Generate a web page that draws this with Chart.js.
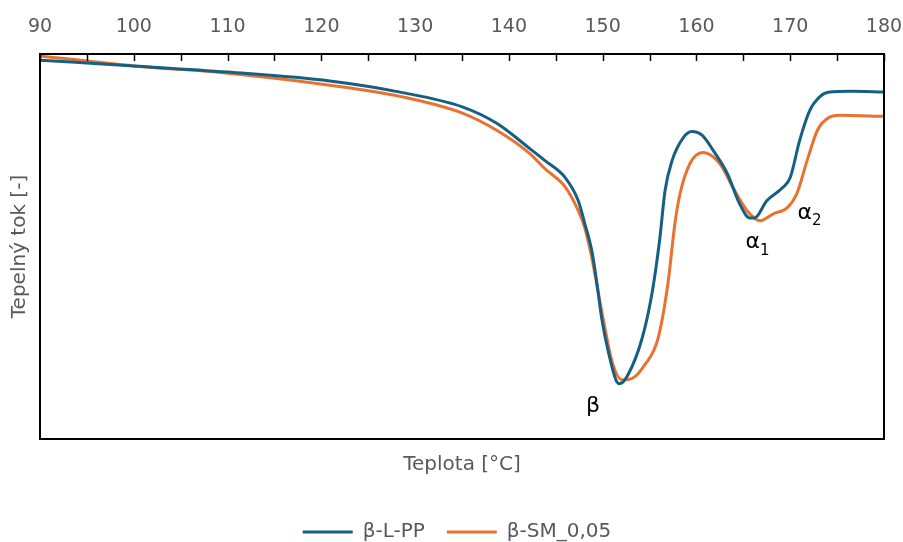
<!DOCTYPE html>
<html>
<head>
<meta charset="utf-8">
<script src="https://cdn.jsdelivr.net/npm/chart.js@4/dist/chart.umd.min.js"></script>
<style>
  html, body { margin: 0; padding: 0; background: #fff; }
  #wrap { width: 903px; height: 542px; }
</style>
</head>
<body>
<div id="wrap"><canvas id="graf"></canvas></div>
<script>
// hodnoty (tepelný tok v libovolných jednotkách)
const teplotaLPP = [90, 100, 110, 120.9, 128.4, 135.1, 138.7, 142.2, 143.85, 146.0, 147.4, 148.1, 148.85, 149.4, 149.9, 150.6,
  151.5, 151.85, 152.7, 154.2, 155.3, 156.1, 156.65, 157.4, 158.6, 159.5, 160.6, 161.8, 163.3, 164.6, 165.7, 166.2,
  167.5, 169.2, 170.0, 171.0, 172.1, 173.2, 174.2, 176.4, 180];
const tokLPP = [98.4, 96.9, 95.3, 93.0, 90.1, 86.2, 82.0, 75.5, 72.3, 67.9, 61.9, 55.9, 48.8, 40.2, 31.3, 22.7,
  14.9, 14.4, 16.7, 26.1, 38.4, 52.2, 64.5, 72.3, 78.3, 79.9, 78.9, 74.9, 68.9, 61.1, 57.4, 57.4,
  61.9, 65.3, 67.9, 77.5, 85.4, 89.0, 90.1, 90.3, 90.1];

const teplotaSM = [90, 100, 110, 120.9, 128.4, 135.1, 138.7, 142.2, 143.85, 146.0, 147.4, 148.1, 148.85, 149.5, 150.25, 151.0,
  152.05, 153.1, 154.5, 155.9, 156.95, 157.7, 158.25, 159.3, 160.7, 162.5, 163.9, 165.4, 166.8, 168.2, 169.7, 170.7,
  171.8, 172.9, 174.2, 175.3, 180];
const tokSM = [99.5, 96.9, 95.0, 91.9, 89.0, 84.6, 80.2, 74.2, 70.2, 65.5, 59.3, 54.8, 47.0, 38.4, 28.7, 20.1,
  15.4, 15.7, 19.3, 26.1, 40.2, 55.9, 63.7, 71.5, 74.4, 71.5, 65.3, 59.3, 56.7, 58.5, 60.1, 63.7,
  72.3, 80.2, 83.6, 84.1, 83.8];

const nazvySerii = ['β-L-PP', 'β-SM_0,05'];
const xTicks = [90, 100, 110, 120, 130, 140, 150, 160, 170, 180];
const xMinorTicks = [90, 95, 100, 105, 110, 115, 120, 125, 130, 135, 140, 145, 150, 155, 160, 165, 170, 175, 180];

const modra = '#156082';
const oranzova = '#E97132';
const seda = '#595959';
const pismo = "'DejaVu Sans', sans-serif";

function body(xs, ys) {
  return xs.map((x, i) => ({ x: x, y: ys[i] }));
}

// popisky píků (β, α1, α2) v souřadnicích dat
const popisky = [
  { text: 'β', sub: '', x: 148.97, y: 8.6 },
  { text: 'α', sub: '1', x: 166.0, y: 51.0 },
  { text: 'α', sub: '2', x: 171.55, y: 58.6 }
];

const ramecek = {
  id: 'ramecek',
  afterLayout(chart) {
    // legenda je v originále vycentrovaná na celou šířku obrázku
    chart.legend.left += 15;
    chart.legend.right += 15;
  },
  afterDraw(chart) {
    const ctx = chart.ctx;
    const a = chart.chartArea;
    const sx = chart.scales.x;
    ctx.save();
    ctx.strokeStyle = '#000';
    ctx.lineWidth = 2;
    ctx.strokeRect(a.left, a.top, a.right - a.left, a.bottom - a.top);
    // ticky směřují dovnitř grafu
    ctx.lineWidth = 1.5;
    xMinorTicks.forEach(t => {
      const px = Math.round(sx.getPixelForValue(t)) + 0.5;
      ctx.beginPath();
      ctx.moveTo(px, a.top);
      ctx.lineTo(px, a.top + 7);
      ctx.stroke();
    });
    // popisky
    const sy = chart.scales.y;
    ctx.fillStyle = '#000';
    ctx.textBaseline = 'middle';
    popisky.forEach(p => {
      const px = sx.getPixelForValue(p.x);
      const py = sy.getPixelForValue(p.y);
      ctx.font = '22px ' + pismo;
      ctx.textAlign = 'center';
      ctx.fillText(p.text, px, py);
      if (p.sub) {
        const w = ctx.measureText(p.text).width;
        ctx.font = '15px ' + pismo;
        ctx.textAlign = 'left';
        ctx.fillText(p.sub, px + w / 2, py + 8);
      }
    });
    ctx.restore();
  }
};

new Chart(document.getElementById('graf'), {
  type: 'line',
  data: {
    datasets: [
      {
        label: nazvySerii[0],
        data: body(teplotaLPP, tokLPP),
        borderColor: modra,
        backgroundColor: modra,
        borderWidth: 3,
        pointRadius: 0,
        cubicInterpolationMode: 'monotone'
      },
      {
        label: nazvySerii[1],
        data: body(teplotaSM, tokSM),
        borderColor: oranzova,
        backgroundColor: oranzova,
        borderWidth: 3,
        pointRadius: 0,
        cubicInterpolationMode: 'monotone'
      }
    ]
  },
  options: {
    responsive: true,
    maintainAspectRatio: false,
    animation: false,
    layout: { padding: { top: 0, right: 19, left: 0, bottom: -10 } },
    plugins: {
      tooltip: { enabled: false },
      legend: {
        position: 'bottom',
        labels: {
          color: seda,
          font: { family: pismo, size: 20 },
          boxWidth: 50,
          boxHeight: 3,
          padding: 22,
          generateLabels(chart) {
            return Chart.defaults.plugins.legend.labels.generateLabels(chart)
              .map(l => Object.assign(l, { lineWidth: 0 }));
          }
        }
      }
    },
    scales: {
      x: {
        type: 'linear',
        position: 'top',
        min: 90,
        max: 180,
        afterBuildTicks(scale) {
          scale.ticks = xTicks.map(v => ({ value: v }));
        },
        afterFit(scale) {
          scale.height = 54;
          scale.paddingLeft = 0;
          scale.paddingRight = 0;
        },
        ticks: { color: seda, font: { family: pismo, size: 19 }, padding: 16, maxRotation: 0 },
        grid: { display: false, drawTicks: false },
        border: { display: false }
      },
      xb: {
        type: 'linear',
        position: 'bottom',
        min: 90,
        max: 180,
        ticks: { display: false },
        grid: { display: false, drawTicks: false },
        border: { display: false },
        title: {
          display: true,
          text: 'Teplota [°C]',
          color: seda,
          font: { family: pismo, size: 20 },
          padding: { top: 14, bottom: 23 }
        }
      },
      y: {
        min: 0,
        max: 100,
        ticks: { display: false },
        grid: { display: false, drawTicks: false },
        border: { display: false },
        title: {
          display: true,
          text: 'Tepelný tok [-]',
          color: seda,
          font: { family: pismo, size: 20 },
          padding: { top: 8, bottom: 8 }
        }
      }
    }
  },
  plugins: [ramecek]
});
</script>
</body>
</html>
